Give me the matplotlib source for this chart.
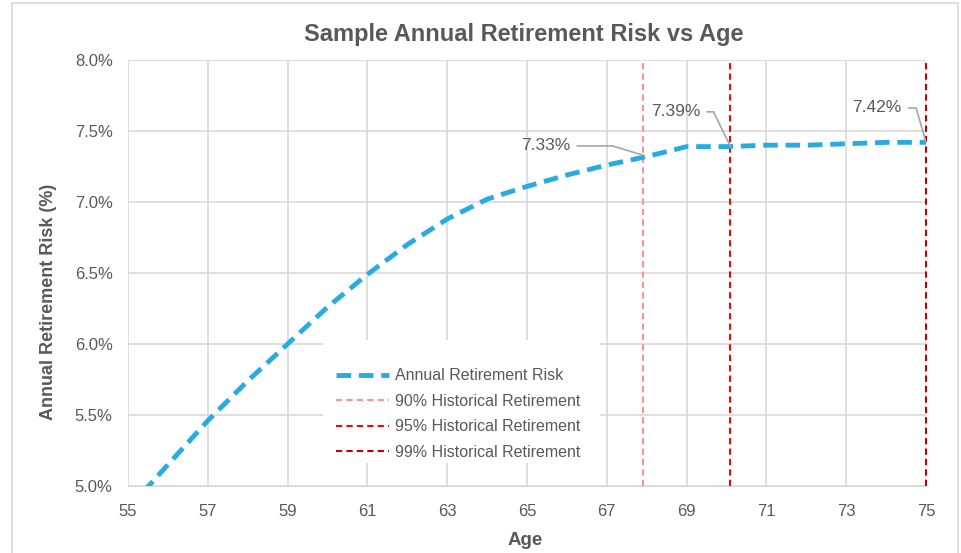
import matplotlib.pyplot as plt
from matplotlib.patches import Rectangle
from matplotlib.ticker import FuncFormatter

ages = [55, 56, 57, 58, 59, 60, 61, 62, 63, 64, 65, 66, 67, 68, 69, 70, 71, 72, 73, 74, 75]
risk = [4.84, 5.15, 5.46, 5.74, 6.00, 6.26, 6.49, 6.70, 6.88, 7.02, 7.11, 7.19, 7.26, 7.32,
        7.39, 7.39, 7.40, 7.40, 7.41, 7.42, 7.42]

hist_labels = ['90% Historical Retirement', '95% Historical Retirement', '99% Historical Retirement']
hist_ages = [67.9, 70.1, 75.0]
hist_colors = ['#FF9090', '#FF0000', '#C00000']

callout_ages = [67.9, 70.1, 75.0]
callout_vals = [7.33, 7.39, 7.42]
callout_text = ['7.33%', '7.39%', '7.42%']
callout_pos = [(64.85, 7.395), (68.1, 7.635), (73.15, 7.662)]
callout_angles = [163, 116, 106]

grey = '#595959'
plt.rcParams['font.family'] = ['Liberation Sans', 'DejaVu Sans']

fig = plt.figure(figsize=(9.61, 5.53), dpi=100)
fig.patches.append(Rectangle((12 / 961, -0.01), 946 / 961, 1 - 3 / 553 + 0.01, transform=fig.transFigure,
                             fill=False, edgecolor='#D9D9D9', linewidth=1.2))
ax = fig.add_axes([128 / 961, 1 - 486 / 553, 798 / 961, 426 / 553])

for s in ['top', 'right', 'left']:
    ax.spines[s].set_visible(False)
ax.spines['bottom'].set_color('#D9D9D9')
ax.grid(True, color='#D9D9D9', linewidth=1.2)
ax.set_axisbelow(True)

ax.plot(ages, risk, color='#29ABE2', linewidth=3.5, dashes=(3, 1.6), label='Annual Retirement Risk',
        zorder=3)
for a, lab, c in zip(hist_ages, hist_labels, hist_colors):
    ax.axvline(a, color=c, linewidth=1.5, dashes=(3, 2), label=lab, zorder=2, clip_on=False)

for a, v, t, p, ang in zip(callout_ages, callout_vals, callout_text, callout_pos, callout_angles):
    ax.annotate(t, xy=(a, v), xytext=p, fontsize=12.5, color=grey, va='center', ha='left',
                arrowprops=dict(arrowstyle='-', color='#A6A6A6', linewidth=1.2,
                                connectionstyle='angle,angleA=0,angleB={},rad=0'.format(ang),
                                shrinkA=3, shrinkB=0))

ax.set_xlim(55, 75)
ax.set_ylim(5.0, 8.0)
ax.set_xticks(range(55, 76, 2))
ax.set_yticks([5.0, 5.5, 6.0, 6.5, 7.0, 7.5, 8.0])
ax.yaxis.set_major_formatter(FuncFormatter(lambda v, p: '{:.1f}%'.format(v)))
ax.tick_params(length=0, labelsize=12, colors=grey)
ax.tick_params(axis='x', pad=13)
ax.tick_params(axis='y', pad=11)

ax.set_xlabel('Age', fontsize=13.5, color=grey, weight='bold')
ax.set_ylabel('Annual Retirement Risk (%)', fontsize=13, color=grey, weight='bold')
ax.xaxis.set_label_coords(0.4975, -0.129)
ax.yaxis.set_label_coords(-0.099, 0.432)
ax.xaxis.label.set_va('center')
ax.yaxis.label.set_va('center')
fig.text(0.545, 1 - 34 / 553, 'Sample Annual Retirement Risk vs Age', ha='center', va='center',
         fontsize=17, weight='bold', color=grey,
         family=['Liberation Sans Narrow', 'Liberation Sans', 'DejaVu Sans'])

# legend sits on a white panel that masks the grid
ax.add_patch(Rectangle((0.2444, 0.054), 0.3471, 0.289, transform=ax.transAxes, facecolor='white',
                       edgecolor='none', zorder=2.5))
leg = ax.legend(loc='lower left', bbox_to_anchor=(0.245, 0.032), frameon=False, fontsize=11.5,
                labelcolor=grey, handlelength=3.3, handletextpad=0.4, labelspacing=0.65,
                borderpad=0.3)
leg.set_zorder(4)

fig.savefig('out.png', dpi=100)
